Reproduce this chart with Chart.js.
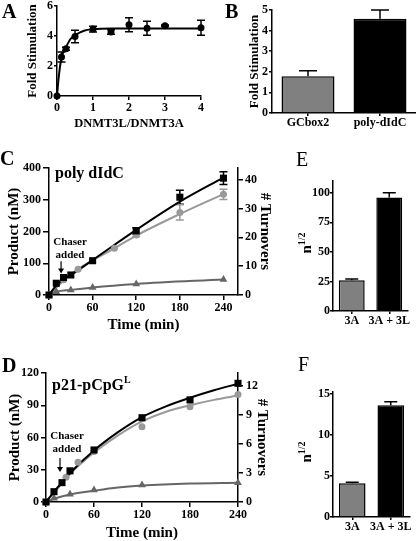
<!DOCTYPE html>
<html lang="en">
<head>
<meta charset="UTF-8">
<title>DNMT3L stimulation of DNMT3A</title>
<script src="https://cdn.jsdelivr.net/npm/chart.js"></script>
<style>
  body { margin: 0; background: #fff; font-family: "Liberation Serif", "Times New Roman", serif; }
  #page { position: relative; width: 416px; height: 541px; overflow: hidden; }
  canvas { position: absolute; }
  .lbl { position: absolute; font-weight: bold; color: #000; white-space: nowrap; line-height: 1; }
  .letter { font-size: 20px; }
  .thin { font-weight: normal; }
  .note { font-size: 16px; transform: translate(0, -50%); }
  .chaser { font-size: 11px; line-height: 12.5px; text-align: center; transform: translate(-50%, -50%); }
  .nhalf { font-size: 15px; transform: translate(-50%, -50%) rotate(-90deg); }
  .nhalf sup { font-size: 10px; }
</style>
</head>
<body>
<div id="page">
  <canvas id="chartA" width="215" height="135" style="left:0;top:0"></canvas>
  <canvas id="chartB" width="201" height="135" style="left:215px;top:0"></canvas>
  <canvas id="chartC" width="290" height="200" style="left:0;top:140px"></canvas>
  <canvas id="chartD" width="290" height="201" style="left:0;top:340px"></canvas>
  <canvas id="chartE" width="126" height="200" style="left:290px;top:140px"></canvas>
  <canvas id="chartF" width="126" height="201" style="left:290px;top:340px"></canvas>

  <div class="lbl letter" style="left:2px;top:1px">A</div>
  <div class="lbl letter" style="left:225px;top:1px">B</div>
  <div class="lbl letter" style="left:0;top:148px">C</div>
  <div class="lbl letter" style="left:2px;top:355px">D</div>
  <div class="lbl letter thin" style="left:296px;top:149px">E</div>
  <div class="lbl letter thin" style="left:298px;top:354px">F</div>

  <div class="lbl note" style="left:55px;top:173px">poly dIdC</div>
  <div class="lbl note" style="left:52px;top:384px">p21-pCpG<sup style="font-size:10px">L</sup></div>
  <div class="lbl chaser" style="left:70px;top:247px">Chaser<br>added</div>
  <div class="lbl chaser" style="left:67px;top:441px">Chaser<br>added</div>
  <div class="lbl nhalf" style="left:305px;top:243px">n<sup>1/2</sup></div>
  <div class="lbl nhalf" style="left:305px;top:452px">n<sup>1/2</sup></div>
</div>

<script>
// A: fold stimulation vs DNMT3L/DNMT3A ratio
const aRatio = [0, 0.125, 0.25, 0.5, 1, 1.5, 2, 2.5, 3, 4];
const aFold = [0, 2.6, 3.15, 3.97, 4.46, 4.26, 4.75, 4.52, 4.68, 4.55];
const aErr = [0, 0.33, 0.1, 0.42, 0.19, 0.15, 0.47, 0.47, 0.05, 0.5];
const aFitX = [0, 0.05, 0.125, 0.25, 0.375, 0.5, 0.75, 1, 1.5, 2, 3, 4];
const aFitY = [0, 1.3, 2.55, 3.25, 3.8, 4.05, 4.35, 4.45, 4.5, 4.5, 4.5, 4.5];

// B: substrate comparison
const bLabels = ['GCbox2', 'poly-dIdC'];
const bFold = [1.79, 4.57];
const bErr = [0.26, 0.43];

// C: poly dIdC time course (nM product)
const cSqT = [0, 10, 20, 30, 60, 120, 180, 240];
const cSqP = [0, 37, 55, 63, 108, 202, 308, 368];
const cSqErr = [0, 0, 0, 0, 0, 10, 22, 20];
const cSqFitP = [0, 30, 50, 63, 110, 205, 294, 370];
const cCirT = [0, 20, 40, 90, 120, 180, 240];
const cCirP = [0, 48, 81, 147, 189, 260, 317];
const cCirErr = [0, 0, 0, 0, 5, 24, 16];
const cCirFitP = [0, 45, 82, 147, 187, 255, 318];
const cTriT = [0, 10, 30, 60, 120, 240];
const cTriP = [0, 10, 16, 24, 35, 49];

// D: p21-pCpG time course (nM product)
const dSqT = [0, 10, 20, 30, 60, 120, 180, 240];
const dSqP = [0, 9.6, 18, 29, 48.4, 78.4, 95, 110.4];
const dCirT = [0, 25, 40, 60, 120, 180, 240];
const dCirP = [0, 23, 37, 47, 70, 88.7, 100];
const dTriT = [0, 10, 30, 60, 120, 240];
const dTriP = [0, 3.4, 7.1, 11.2, 15.8, 18];
const dFitT = [0, 15, 30, 60, 90, 120, 150, 180, 210, 240];
const dSqFitP = [0, 14, 27, 48, 65, 79, 89, 97, 104, 110];
const dCirFitP = [0, 13, 26, 46, 62, 75, 84, 90, 95, 99];
const dTriFitT = [0, 15, 30, 60, 90, 120, 180, 240];
const dTriFitP = [0, 4.2, 7, 10.5, 13.5, 15.3, 17.2, 18];

// E / F: n 1/2
const efLabels = ['3A', '3A + 3L'];
const eN = [26, 96];
const eErr = [1, 4];
const fN = [4.1, 13.6];
const fErr = [0.12, 0.4];

const timeTicks = [0, 60, 120, 180, 240];
const SERIF = '"Liberation Serif", "Times New Roman", serif';
const GRAY = '#999999';
const DARK = '#666666';
const BARGRAY = '#808080';

Chart.defaults.font.family = SERIF;
Chart.defaults.font.weight = 'bold';
Chart.defaults.font.size = 12;
Chart.defaults.color = '#000';
Chart.defaults.animation = false;
Chart.defaults.responsive = false;
Chart.defaults.plugins.legend.display = false;
Chart.defaults.plugins.tooltip.enabled = false;

const pts = (xs, ys) => xs.map((x, i) => ({ x: x, y: ys[i] }));

function axis(o) {
  const s = {
    type: o.type || 'linear',
    position: o.pos,
    border: { display: true, color: '#000', width: 1.5 },
    grid: { display: true, drawOnChartArea: false, drawTicks: true, tickLength: o.tick || 4,
            color: '#000', lineWidth: 1.5, offset: false },
    ticks: { padding: o.pad === undefined ? 1 : o.pad, color: '#000', maxRotation: 0, autoSkip: false,
             font: { family: SERIF, size: 12, weight: 'bold' } },
    title: o.title ? { display: true, text: o.title, padding: 0, color: '#000',
                       font: { family: SERIF, size: o.titleSize || 12, weight: 'bold', lineHeight: 1 } }
                   : { display: false },
    afterFit: sc => {
      if (sc.isHorizontal()) { sc.height = o.size; sc.paddingLeft = 0; sc.paddingRight = 0; }
      else { sc.width = o.size; sc.paddingTop = 0; sc.paddingBottom = 0; }
    }
  };
  if (o.min !== undefined) s.min = o.min;
  if (o.max !== undefined) s.max = o.max;
  if (o.values) s.afterBuildTicks = sc => { sc.ticks = o.values.map(v => ({ value: v })); };
  return s;
}

// draws vertical error bars from dataset.errors
const errorBars = {
  id: 'errorBars',
  beforeDatasetsDraw(chart) {
    const ctx = chart.ctx;
    chart.data.datasets.forEach((ds, i) => {
      if (!ds.errors) return;
      const meta = chart.getDatasetMeta(i);
      const ys = chart.scales[meta.yAxisID];
      meta.data.forEach((el, j) => {
        const e = ds.errors[j];
        if (!e) return;
        const v = typeof ds.data[j] === 'object' ? ds.data[j].y : ds.data[j];
        const top = ys.getPixelForValue(v + e);
        const bot = ds.upOnly ? el.y : ys.getPixelForValue(v - e);
        const cap = ds.capHalf || 4;
        ctx.save();
        ctx.strokeStyle = ds.errorColor || '#000';
        ctx.lineWidth = 1.5;
        ctx.beginPath();
        ctx.moveTo(el.x, top); ctx.lineTo(el.x, bot);
        ctx.moveTo(el.x - cap, top); ctx.lineTo(el.x + cap, top);
        if (!ds.upOnly) { ctx.moveTo(el.x - cap, bot); ctx.lineTo(el.x + cap, bot); }
        ctx.stroke();
        ctx.restore();
      });
    });
  }
};

function chaserArrow(t, from, to) {
  return {
    id: 'chaser',
    afterDatasetsDraw(chart) {
      const ctx = chart.ctx, x = chart.scales.x.getPixelForValue(t);
      const y0 = chart.scales.y.getPixelForValue(from), y1 = chart.scales.y.getPixelForValue(to);
      ctx.save();
      ctx.strokeStyle = '#000'; ctx.fillStyle = '#000'; ctx.lineWidth = 1.2;
      ctx.beginPath(); ctx.moveTo(x, y0); ctx.lineTo(x, y1 - 4); ctx.stroke();
      ctx.beginPath(); ctx.moveTo(x, y1); ctx.lineTo(x - 3, y1 - 5); ctx.lineTo(x + 3, y1 - 5); ctx.closePath(); ctx.fill();
      ctx.restore();
    }
  };
}

function fitLine(data, color) {
  return { data: data, showLine: true, pointRadius: 0, borderColor: color, borderWidth: 2,
           cubicInterpolationMode: 'monotone', clip: false };
}
function marks(data, color, style, r, errs) {
  return { data: data, showLine: false, pointStyle: style, pointRadius: r, backgroundColor: color,
           borderColor: color, borderWidth: 0, clip: false, errors: errs, errorColor: color };
}

// Panel A
new Chart(document.getElementById('chartA'), {
  type: 'scatter',
  data: { datasets: [
    marks(pts(aRatio, aFold), '#000', 'circle', 3.5, aErr),
    fitLine(pts(aFitX, aFitY), '#000')
  ] },
  options: {
    layout: { padding: { left: 26.5, top: 6, right: 14, bottom: 5 } },
    scales: {
      x: axis({ pos: 'bottom', min: 0, max: 4, values: [0, 1, 2, 3, 4], size: 34, title: 'DNMT3L/DNMT3A', titleSize: 12.5 }),
      y: axis({ pos: 'left', min: 0, max: 6, values: [0, 2, 4, 6], size: 30.5, tick: 3, title: 'Fold Stimulation', titleSize: 13 })
    }
  },
  plugins: [errorBars]
});

// Panel B
new Chart(document.getElementById('chartB'), {
  type: 'bar',
  data: { labels: bLabels, datasets: [{
    data: bFold, backgroundColor: [BARGRAY, '#000'], borderColor: '#000', borderWidth: 1.5,
    barPercentage: 0.736, categoryPercentage: 1, errors: bErr, upOnly: true, capHalf: 9
  }] },
  options: {
    layout: { padding: { left: 33.5, top: 10, right: 0, bottom: 0 } },
    scales: {
      x: axis({ type: 'category', pos: 'bottom', size: 22, tick: 3, pad: 0 }),
      y: axis({ pos: 'left', min: 0, max: 5, values: [0, 1, 2, 3, 4, 5], size: 23.5, tick: 3, title: 'Fold Stimulation', titleSize: 13 })
    }
  },
  plugins: [errorBars]
});

// Panel C
new Chart(document.getElementById('chartC'), {
  type: 'scatter',
  data: { datasets: [
    marks(pts(cSqT, cSqP), '#000', 'rect', 5, cSqErr),
    marks(pts(cCirT, cCirP), GRAY, 'circle', 3.5, cCirErr),
    marks(pts(cTriT, cTriP), DARK, 'triangle', 4.5),
    fitLine(pts(cSqT, cSqFitP), '#000'),
    fitLine(pts(cCirT, cCirFitP), GRAY),
    fitLine(pts(cTriT, cTriP), DARK)
  ] },
  options: {
    layout: { padding: { left: 6.5, top: 28, right: 17.5, bottom: 7.5 } },
    scales: {
      x: axis({ pos: 'bottom', min: 0, max: 260, values: timeTicks, size: 37.5, tick: 5, title: 'Time (min)', titleSize: 15 }),
      y: axis({ pos: 'left', min: 0, max: 400, values: [0, 100, 200, 300, 400], size: 42.5, tick: 6, pad: 2, title: 'Product (nM)', titleSize: 15 }),
      y1: axis({ pos: 'right', min: 0, max: 44, values: [0, 10, 20, 30, 40], size: 34.5, tick: 5, pad: 2, title: '# Turnovers', titleSize: 15 })
    }
  },
  plugins: [errorBars, chaserArrow(16.6, 106, 68)]
});

// Panel D
new Chart(document.getElementById('chartD'), {
  type: 'scatter',
  data: { datasets: [
    marks(pts(dSqT, dSqP), '#000', 'rect', 5),
    marks(pts(dCirT, dCirP), GRAY, 'circle', 3.5),
    marks(pts(dTriT, dTriP), DARK, 'triangle', 4.5),
    fitLine(pts(dFitT, dSqFitP), '#000'),
    fitLine(pts(dFitT, dCirFitP), GRAY),
    fitLine(pts(dTriFitT, dTriFitP), DARK)
  ] },
  options: {
    layout: { padding: { left: 7.5, top: 33, right: 20.5, bottom: 0.5 } },
    scales: {
      x: axis({ pos: 'bottom', min: 0, max: 240, values: timeTicks, size: 38.5, tick: 5, title: 'Time (min)', titleSize: 15 }),
      y: axis({ pos: 'left', min: 0, max: 120, values: [0, 30, 60, 90, 120], size: 38.5, tick: 5, pad: 2, title: 'Product (nM)', titleSize: 15 }),
      y1: axis({ pos: 'right', min: 0, max: 13.3, values: [0, 3, 6, 9, 12], size: 31.5, tick: 5, pad: 3, title: '# Turnovers', titleSize: 15 })
    }
  },
  plugins: [errorBars, chaserArrow(17.5, 41, 28)]
});

// Panels E and F
function nHalfChart(id, values, errs, max, ticks, top, right, xh) {
  new Chart(document.getElementById(id), {
    type: 'bar',
    data: { labels: efLabels, datasets: [{
      data: values, backgroundColor: [BARGRAY, '#000'], borderColor: '#000', borderWidth: 1.5,
      barPercentage: 0.69, categoryPercentage: 1, errors: errs, upOnly: true, capHalf: 6.5
    }] },
    options: {
      layout: { padding: { left: 0, top: top, right: right, bottom: 0 } },
      scales: {
        x: axis({ type: 'category', pos: 'bottom', size: xh, tick: 3, pad: 0 }),
        y: axis({ pos: 'left', min: 0, max: max, values: ticks, size: 43, tick: 3, pad: 0 })
      }
    },
    plugins: [errorBars]
  });
}
nHalfChart('chartE', eN, eErr, 110, [0, 25, 50, 75, 100], 41, 8, 29);
nHalfChart('chartF', fN, fErr, 15.2, [0, 5, 10, 15], 52, 6, 24);
</script>
</body>
</html>
